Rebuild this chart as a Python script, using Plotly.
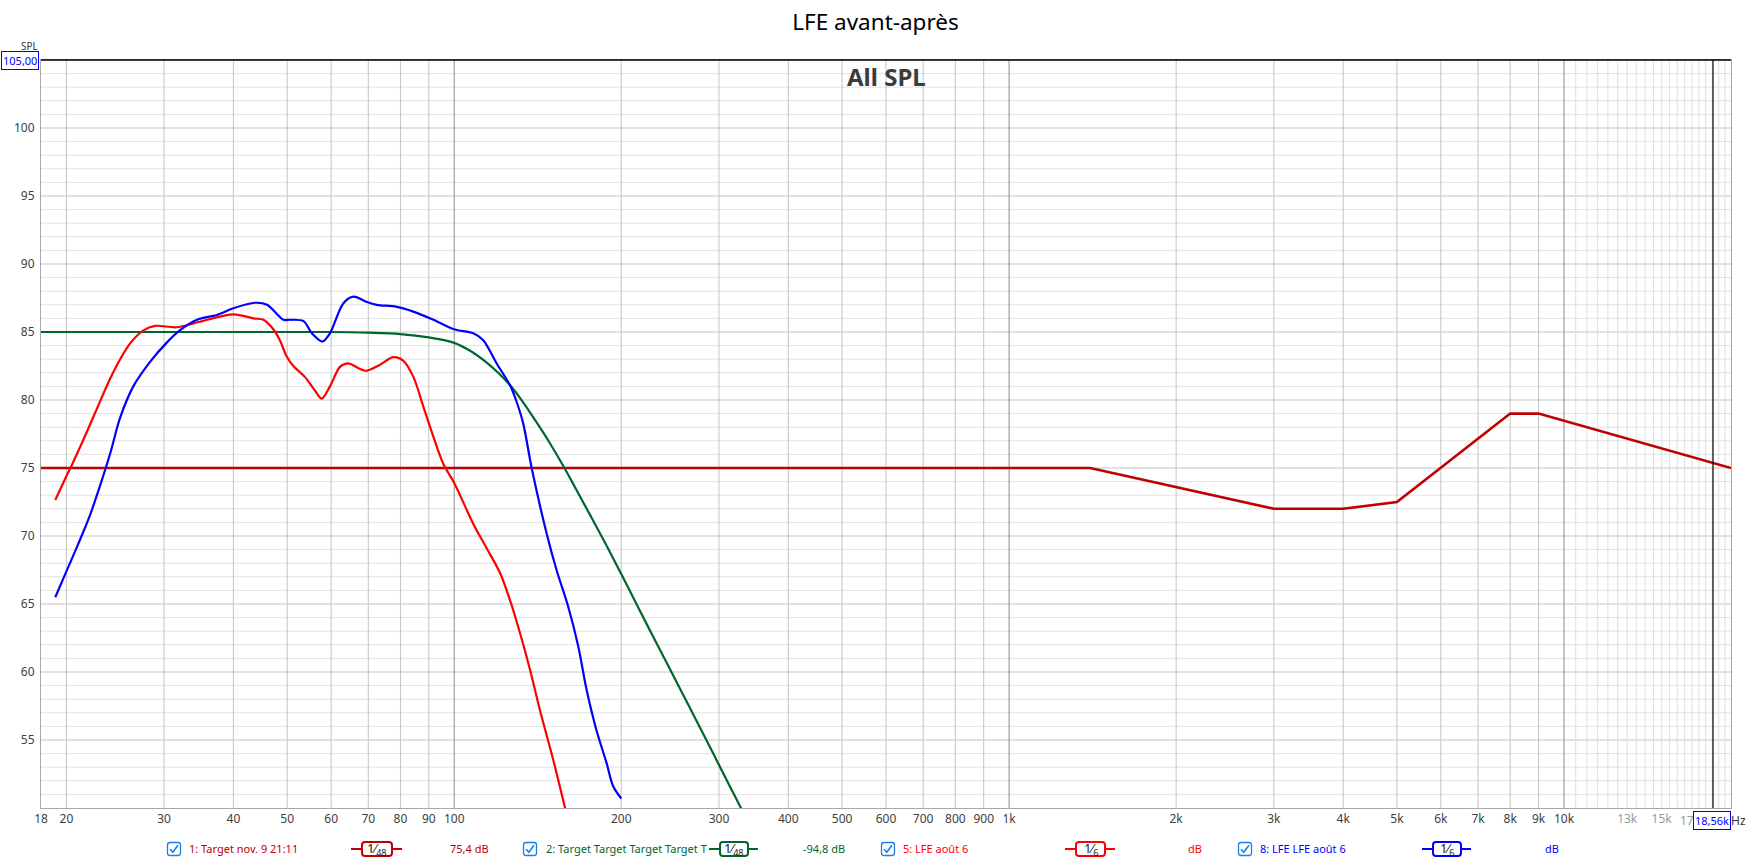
import plotly.graph_objects as go

# ---------------- data ----------------
target_freq = [18, 1400, 3000, 4000, 5000, 8000, 9000, 20000]
target_spl = [75.0, 75.0, 72.0, 72.0, 72.5, 79.0, 79.0, 75.0]

xo_freq = [18, 30, 45, 60, 70, 80, 90, 100, 107, 114, 120, 126, 133, 140, 148, 157,
           166, 176, 187, 200, 213, 227, 242, 258, 275, 293, 312, 332, 350]
xo_spl = [85.0, 85.0, 85.0, 85.0, 84.95, 84.85, 84.6, 84.2, 83.6, 82.8, 82.0, 81.1,
          79.85, 78.5, 76.97, 75.2, 73.4, 71.5, 69.5, 67.2, 65.0, 62.8, 60.6, 58.4,
          56.2, 54.0, 51.8, 49.65, 47.8]

lfe_freq = [19.1, 20.0, 20.5, 21.8, 23.0, 24.0, 25.0, 26.1, 27.5, 28.9, 31.6, 34.8,
            40.0, 43.5, 45.3, 47.2, 48.5, 49.9, 51.3, 53.8, 56.1, 57.7, 59.7, 62.3,
            64.4, 69.1, 73.5, 77.7, 80.9, 84.4, 88.0, 91.7, 95.6, 100.0, 108.2, 114.4,
            120.9, 126.0, 131.3, 136.9, 142.7, 150.9, 158.3, 162.0]
lfe_spl = [72.65, 74.4, 75.3, 77.7, 79.9, 81.6, 83.0, 84.2, 85.1, 85.45, 85.35, 85.75,
           86.3, 86.0, 85.9, 85.2, 84.4, 83.2, 82.5, 81.7, 80.7, 80.1, 81.0, 82.45,
           82.7, 82.15, 82.6, 83.15, 82.9, 81.7, 79.5, 77.3, 75.3, 73.9, 70.9, 69.1,
           67.3, 65.3, 62.9, 60.2, 57.2, 53.5, 50.05, 48.4]

lfe2_freq = [19.1, 20.0, 21.0, 22.0, 23.0, 24.0, 25.0, 26.4, 28.3, 30.3, 32.1, 34.4,
             37.3, 40.0, 43.8, 46.0, 49.2, 50.6, 53.5, 55.4, 57.9, 59.7, 63.1, 65.8,
             69.6, 72.5, 78.8, 84.4, 91.7, 100.0, 108.2, 112.8, 119.2, 126.0, 129.2,
             133.1, 137.9, 146.7, 152.9, 160.5, 167.3, 173.2, 180.5, 188.2, 193.4, 200.0]
lfe2_spl = [65.5, 67.4, 69.4, 71.4, 73.7, 76.1, 78.7, 81.0, 82.8, 84.2, 85.15, 85.9,
            86.25, 86.75, 87.15, 87.0, 85.9, 85.9, 85.8, 84.9, 84.3, 84.9, 87.1, 87.6,
            87.2, 87.0, 86.85, 86.5, 85.9, 85.2, 84.9, 84.4, 82.7, 81.1, 80.0,
            78.3, 75.0, 70.2, 67.5, 64.8, 61.9, 58.7, 55.7, 53.3, 51.6, 50.7]

x_tick_vals = [18, 20, 30, 40, 50, 60, 70, 80, 90, 100, 200, 300, 400, 500, 600, 700,
               800, 900, 1000, 2000, 3000, 4000, 5000, 6000, 7000, 8000, 9000, 10000,
               13000, 15000]
x_tick_text = ["18", "20", "30", "40", "50", "60", "70", "80", "90", "100", "200", "300",
               "400", "500", "600", "700", "800", "900", "1k", "2k", "3k", "4k", "5k",
               "6k", "7k", "8k", "9k", "10k", "13k", "15k"]
x_gray_ticks = ["13k", "15k"]
y_tick_vals = [55, 60, 65, 70, 75, 80, 85, 90, 95, 100]

grid_major_x = [20, 30, 40, 50, 60, 70, 80, 90, 200, 300, 400, 500, 600, 700, 800, 900,
                2000, 3000, 4000, 5000, 6000, 7000, 8000, 9000]
grid_decade_x = [100, 1000, 10000]
grid_minor_x = [10500 + 500 * i for i in range(19)]

cursor_freq = 18560
cursor_label = "18,56k"
top_label = "105,00"

legend_items = [
    dict(label="1: Target nov. 9 21:11", color="#c00000", smooth="48", value="75,4 dB",
         cb=174, tx=187, sym=(351, 402), val=448),
    dict(label="2: Target Target Target Target T", color="#00662f", smooth="48", value="-94,8 dB",
         cb=530, tx=544, sym=(709, 758), val=801),
    dict(label="5: LFE août 6", color="#ff0000", smooth="6", value="dB",
         cb=888, tx=901, sym=(1065, 1115), val=1186),
    dict(label="8: LFE LFE août 6", color="#0000ff", smooth="6", value="dB",
         cb=1245, tx=1258, sym=(1422, 1471), val=1543),
]

# ---------------- layout geometry ----------------
OFF = 0  # body margin removed by post_script below
PAGE_W, PAGE_H = 1751, 860
FIG_W, FIG_H = PAGE_W - OFF, PAGE_H - OFF
PL, PR, PT, PB = 41, 1731, 60, 808
L, R, T, B = PL - OFF, PR - OFF, PT - OFF, PB - OFF
W, H = R - L, B - T
FONT = "Noto Sans"


def px(x):
    return (x - OFF - L) / W


def py(y):
    return (B - (y - OFF)) / H


def rrect(x0, y0, x1, y1, r):
    pts = [("M", x0 + r, y0), ("L", x1 - r, y0), ("Q", x1, y0, x1, y0 + r),
           ("L", x1, y1 - r), ("Q", x1, y1, x1 - r, y1), ("L", x0 + r, y1),
           ("Q", x0, y1, x0, y1 - r), ("L", x0, y0 + r), ("Q", x0, y0, x0 + r, y0)]
    s = ""
    for p in pts:
        coords = p[1:]
        parts = []
        for i in range(0, len(coords), 2):
            parts.append(f"{px(coords[i]):.6f},{py(coords[i + 1]):.6f}")
        s += p[0] + " " + " ".join(parts) + " "
    return s + "Z"


fig = go.Figure()

fig.add_trace(go.Scatter(x=target_freq, y=target_spl, mode="lines",
                         line=dict(color="#c00000", width=2.6), name="1: Target"))
fig.add_trace(go.Scatter(x=xo_freq, y=xo_spl, mode="lines",
                         line=dict(color="#00662f", width=2.2, shape="spline", smoothing=1.0),
                         name="2: Target"))
fig.add_trace(go.Scatter(x=lfe_freq, y=lfe_spl, mode="lines",
                         line=dict(color="#ff0000", width=2.2, shape="spline", smoothing=0.9),
                         name="5: LFE août 6"))
fig.add_trace(go.Scatter(x=lfe2_freq, y=lfe2_spl, mode="lines",
                         line=dict(color="#0000ff", width=2.2, shape="spline", smoothing=0.9),
                         name="8: LFE LFE août 6"))

shapes = []
for v in range(51, 105):
    col = "#c4c4c4" if v % 5 == 0 else "#e2e2e2"
    shapes.append(dict(type="line", xref="paper", yref="y", x0=0, x1=1, y0=v, y1=v,
                       line=dict(color=col, width=1), layer="below"))
for f in grid_minor_x:
    shapes.append(dict(type="line", xref="x", yref="paper", x0=f, x1=f, y0=0, y1=1,
                       line=dict(color="#dedede", width=1), layer="below"))
for f in grid_major_x:
    shapes.append(dict(type="line", xref="x", yref="paper", x0=f, x1=f, y0=0, y1=1,
                       line=dict(color="#c4c4c4", width=1), layer="below"))
for f in grid_decade_x:
    shapes.append(dict(type="line", xref="x", yref="paper", x0=f, x1=f, y0=0, y1=1,
                       line=dict(color="#8c8c8c", width=1), layer="below"))
shapes.append(dict(type="line", xref="paper", yref="paper", x0=0, x1=1, y0=1, y1=1,
                   line=dict(color="#000000", width=1.5), layer="above"))
shapes.append(dict(type="line", xref="x", yref="paper", x0=cursor_freq, x1=cursor_freq,
                   y0=0, y1=1, line=dict(color="#000000", width=1.2), layer="above"))

annotations = []
LY = 849
for it in legend_items:
    c = it["cb"]
    shapes.append(dict(type="path", xref="paper", yref="paper",
                       path=rrect(c - 6.5, LY - 6.5, c + 6.5, LY + 6.5, 2.5),
                       line=dict(color="#1a7fe8", width=1.3), fillcolor="white"))
    chk = (f"M {px(c - 4):.6f},{py(LY + 0.2):.6f} L {px(c - 1.2):.6f},{py(LY + 3.2):.6f} "
           f"L {px(c + 4):.6f},{py(LY - 3.8):.6f}")
    shapes.append(dict(type="path", xref="paper", yref="paper", path=chk,
                       line=dict(color="#1a7fe8", width=1.6)))
    annotations.append(dict(x=px(it["tx"]), y=py(LY), xref="paper", yref="paper",
                            text=it["label"], showarrow=False, xanchor="left", yanchor="middle",
                            font=dict(family=FONT, size=11, color=it["color"])))
    s0, s1 = it["sym"]
    shapes.append(dict(type="line", xref="paper", yref="paper", x0=px(s0), x1=px(s1),
                       y0=py(LY), y1=py(LY), line=dict(color=it["color"], width=2)))
    bx0 = s0 + 11
    bx1 = s1 - 10
    shapes.append(dict(type="path", xref="paper", yref="paper",
                       path=rrect(bx0, LY - 7, bx1, LY + 7, 3),
                       line=dict(color=it["color"], width=2), fillcolor="white"))
    annotations.append(dict(x=px((bx0 + bx1) / 2), y=py(LY), xref="paper", yref="paper",
                            text="1⁄<sub>" + it["smooth"] + "</sub>", showarrow=False,
                            xanchor="center", yanchor="middle",
                            font=dict(family=FONT, size=13, color="#222222")))
    annotations.append(dict(x=px(it["val"]), y=py(LY), xref="paper", yref="paper",
                            text=it["value"], showarrow=False, xanchor="left", yanchor="middle",
                            font=dict(family=FONT, size=11, color=it["color"])))

annotations.append(dict(x=0.5, y=py(77), xref="paper", yref="paper", text="<b>All SPL</b>",
                        showarrow=False, xanchor="center", yanchor="middle",
                        font=dict(family=FONT, size=24, color="#3c3c3c")))
annotations.append(dict(x=px(29), y=py(46), xref="paper", yref="paper", text="SPL",
                        showarrow=False, xanchor="center", yanchor="middle",
                        font=dict(family=FONT, size=10, color="#333333")))
annotations.append(dict(x=px(20), y=py(60), xref="paper", yref="paper", text=top_label,
                        showarrow=False, xanchor="center", yanchor="middle",
                        font=dict(family=FONT, size=11, color="#0000ff"),
                        bgcolor="white", bordercolor="#0000ff", borderwidth=1, borderpad=1))
annotations.append(dict(x=px(1678), y=py(820), xref="paper", yref="paper", text="17k",
                        showarrow=False, xanchor="left", yanchor="middle",
                        font=dict(family=FONT, size=12, color="#9a9a9a")))
annotations.append(dict(x=px(1731), y=py(820), xref="paper", yref="paper", text=cursor_label,
                        showarrow=False, xanchor="right", yanchor="middle",
                        font=dict(family=FONT, size=11, color="#0000ff"),
                        bgcolor="white", bordercolor="#0000ff", borderwidth=1, borderpad=1))
annotations.append(dict(x=px(1748), y=py(820), xref="paper", yref="paper", text="Hz",
                        showarrow=False, xanchor="right", yanchor="middle",
                        font=dict(family=FONT, size=12, color="#333333")))

tick_text = [f"<span style='color:#9a9a9a'>{t}</span>" if t in x_gray_ticks else t
             for t in x_tick_text]

fig.update_layout(
    width=FIG_W, height=FIG_H, autosize=False,
    margin=dict(l=L, r=FIG_W - R, t=T, b=FIG_H - B, pad=0),
    paper_bgcolor="white", plot_bgcolor="white",
    showlegend=False,
    title=dict(text="LFE avant-après", x=0.5, xref="container", xanchor="center",
               y=1 - (22 - OFF) / FIG_H, yref="container", yanchor="middle",
               font=dict(family=FONT, size=22.5, color="#000000")),
    font=dict(family=FONT, size=12, color="#404040"),
    shapes=shapes, annotations=annotations,
    xaxis=dict(type="log", range=[1.2552725, 4.30103], tickmode="array",
               tickvals=x_tick_vals, ticktext=tick_text, showgrid=False, zeroline=False,
               showline=True, mirror=True, linecolor="#a8a8a8", linewidth=1,
               ticks="", tickfont=dict(family=FONT, size=12, color="#404040")),
    yaxis=dict(range=[50, 105], tickmode="array", tickvals=y_tick_vals,
               ticktext=[str(v) for v in y_tick_vals], showgrid=False, zeroline=False,
               showline=True, mirror=True, linecolor="#a8a8a8", linewidth=1,
               ticks="", ticklabelstandoff=3,
               tickfont=dict(family=FONT, size=12, color="#404040")),
)

fig.write_html("out.html", config={"displayModeBar": False},
               post_script="document.body.style.margin='0';document.body.style.overflow='hidden';")
